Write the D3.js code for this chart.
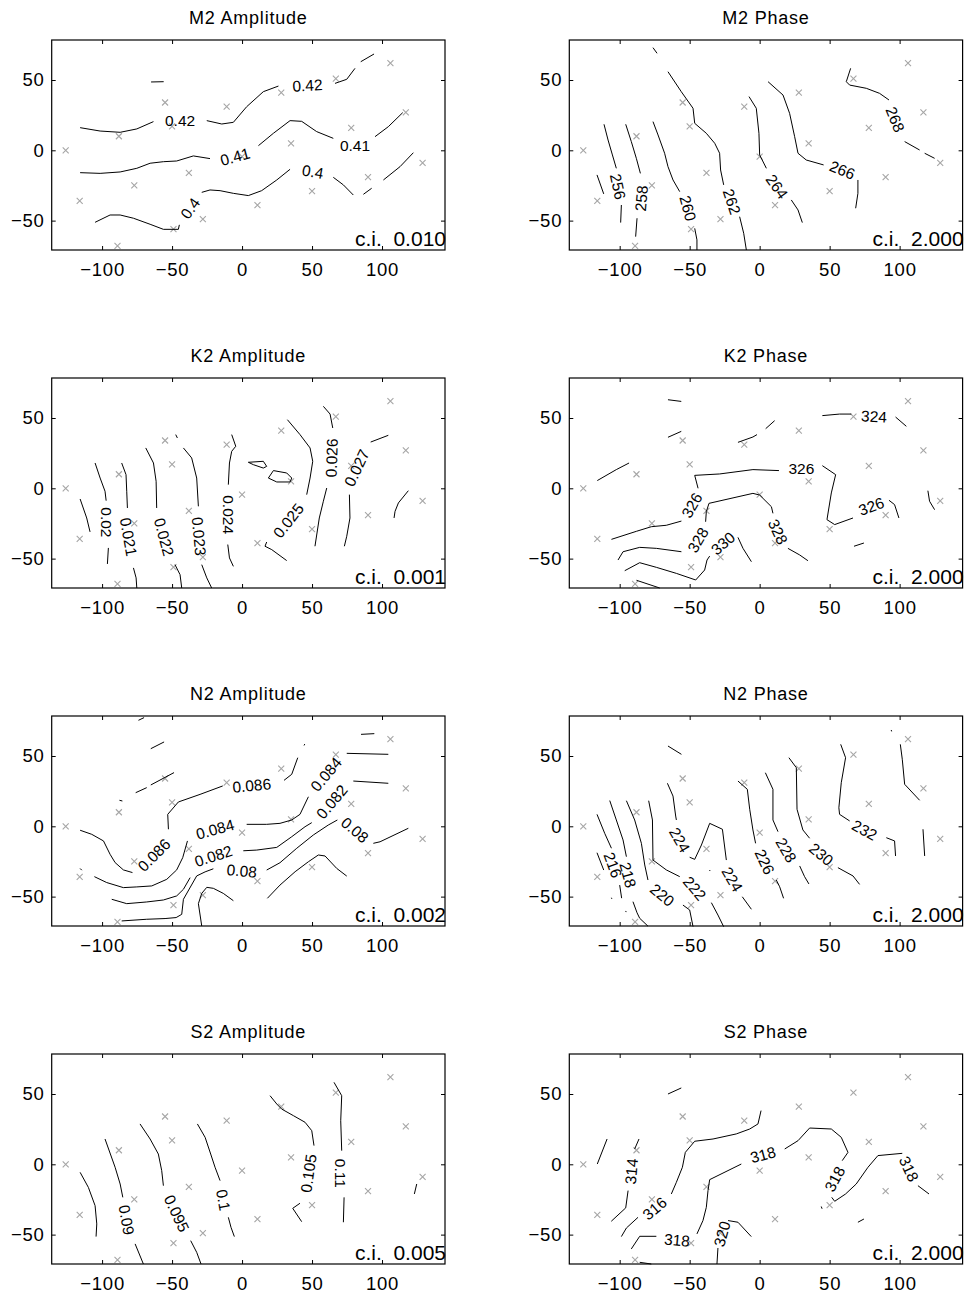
<!DOCTYPE html>
<html>
<head>
<meta charset="utf-8">
<script src="https://cdn.jsdelivr.net/npm/d3@7.9.0/dist/d3.min.js"></script>
<style>
  body { margin: 0; background: #fff; }
  text { font-family: "Liberation Sans", Arial, Helvetica, sans-serif; }
</style>
</head>
<body>
<svg id="chart" width="966" height="1297"></svg>
<script>
// station positions (gray x markers), same on every panel
const stations = [
  [-126, 0], [-116, -36], [-88, 10], [-89, -68], [-77, -25], [-55, 34], [-50, 17],
  [-49, -56], [-38, -16], [-28, -49], [-11, 31], [0, -4.5], [11, -39], [28, 41],
  [35, 5], [50, -29], [67, 51], [78, 16], [90, -19], [106, 62], [117, 27], [129, -9]
];

const xTicks = [-100, -50, 0, 50, 100];
const yTicks = [-50, 0, 50];

const titles = ['M2 Amplitude', 'M2 Phase', 'K2 Amplitude', 'K2 Phase',
                'N2 Amplitude', 'N2 Phase', 'S2 Amplitude', 'S2 Phase'];
const contourIntervals = ['0.010', '2.000', '0.001', '2.000', '0.002', '2.000', '0.005', '2.000'];

// contour pieces, [x, y] in axis units
const m2AmpLines = [
  [[-65, 48.6], [-56, 48.8]],
  [[-115.7, 16.1], [-101.4, 13.7], [-87.1, 12.8], [-75.2, 15.2], [-63.3, 20.4]],
  [[-25.2, 21.1], [-14.5, 18.7], [-6.2, 19.9], [3.3, 31], [15.2, 41.7], [26, 45.7]],
  [[66.4, 47.6], [74.8, 50.5], [80.7, 58.3]],
  [[84.8, 63], [94.3, 68.5]],
  [[-115.7, -15.9], [-101.4, -16.4], [-87.1, -15.4], [-75.2, -12.8], [-65.7, -9.2], [-56.2, -8.1], [-46.7, -7.6], [-34.8, -4], [-22.9, -5.9]],
  [[11.7, 3.3], [22.4, 12.1], [34.3, 21.1], [42.6, 20.6], [53.3, 13.3], [65.2, 8.5]],
  [[95, 9.7], [104.5, 16.8], [114.8, 26.8]],
  [[-105, -51.2], [-94.3, -46], [-87.1, -46], [-77.6, -48.3], [-65.7, -52.6], [-56.2, -56.2], [-45.5, -56.2], [-44.8, -53]],
  [[-28.8, -29.9], [-22.9, -28.2], [-15.7, -28.7], [-6.2, -30.6], [4.5, -32.2], [14, -28.7], [24.8, -21.1], [34.3, -13.5]],
  [[65.2, -19.2], [72.4, -24.6], [79.5, -31.8]],
  [[86.7, -31.3], [92.6, -27]],
  [[101, -21.1], [112.9, -11.6], [122.4, -1.7]]
];
const m2AmpLabels = [
  ['0.42', -44.3, 21.6, 0], ['0.42', 46.7, 46.2, -3], ['0.41', -5, -4.5, -15],
  ['0.41', 80.7, 3.8, 0], ['0.4', -37.1, -41.2, -55], ['0.4', 50.5, -15.2, 10]
];

const m2PhaLines = [
  [[-76.2, 73], [-73.3, 69]],
  [[-116.2, -17.5], [-111.4, -31]],
  [[-111.2, 18.5], [-108.3, 7.3], [-105.2, -3.3], [-102.4, -12.8]],
  [[-98.8, -38.9], [-99.3, -51.4]],
  [[-95.7, 18.5], [-91.7, 6.2], [-88.1, -5.7], [-85.2, -16.4]],
  [[-87.6, -48.3], [-88.6, -61.4]],
  [[-76.2, 20.4], [-72.6, 10.9], [-67.9, -2.1], [-65.5, -11.6], [-61.9, -21.1], [-57.1, -29.4]],
  [[-46.4, -55.5], [-44.8, -63.7], [-44.8, -70.9]],
  [[-65.5, 55.9], [-56, 41.7], [-47.6, 29.9], [-46.4, 19.2], [-38.1, 12.1], [-32.1, 5], [-28.6, -2.1], [-27.9, -14], [-25.7, -24.6]],
  [[-14.3, -47.2], [-11.4, -59], [-9.5, -70.9]],
  [[-7.6, 38.2], [-2.4, 29.9], [-0.5, 12.1], [0, -3.3], [4.8, -12.8]],
  [[22.6, -35.3], [27.4, -42.4], [30.5, -51.4]],
  [[6, 48.8], [16.7, 39.3], [21.4, 26.3], [25, 9.7], [27.4, -2.1], [33.3, -6.9], [45.7, -10.4]],
  [[70.2, -21.1], [70.2, -30.6], [68.6, -41.2]],
  [[65, 58.3], [61.9, 48.8], [64.3, 46.4], [76.2, 44.1], [85.7, 40.5], [92.4, 35.8]],
  [[103.6, 6.2], [114.3, 0.2]],
  [[117.9, -2.1], [125, -5.7]]
];
const m2PhaLabels = [
  ['256', -101.2, -25.8, 78], ['258', -84.5, -34.1, -85], ['260', -51.2, -41.2, 75],
  ['262', -19.8, -36.5, 72], ['264', 12.4, -25.8, 55], ['266', 59, -14, 22], ['268', 96.9, 22, 68]
];

const k2AmpLines = [
  [[-115.7, -7.6], [-111, -21.1], [-108.6, -31]],
  [[-105, 18], [-101.4, 7.3], [-97.9, -2.1], [-97.1, -8.8]],
  [[-95.5, -42.4], [-96.2, -53.8]],
  [[-86, 18], [-82.9, 9.7], [-82.4, -2.1], [-81.9, -14]],
  [[-77.6, -56.6], [-75.7, -63.7], [-75.2, -70.9]],
  [[-68.8, 28.7], [-63.3, 18], [-61.4, 5], [-61, -14]],
  [[-47.9, -54.3], [-44.3, -61.4], [-43.1, -70.9]],
  [[-47.4, 38.2], [-46.2, 35.8]],
  [[-41.9, 28.7], [-36, 21.6], [-32.4, 7.3], [-31.2, -12.8]],
  [[-28.8, -54.3], [-25.2, -63.7], [-21.7, -70.9]],
  [[-7.4, 38.2], [-4.5, 29.9], [-7.4, 26.3], [-9, 18], [-9.8, 2.6]],
  [[-10.2, -40], [-9, -49.5], [-6.2, -55.5]],
  [[4.5, 18.5], [15.2, 19.2], [17.6, 15.6], [15.2, 14.4], [8.1, 16.8], [4.5, 18.5]],
  [[18.8, 7.3], [22.4, 12.6], [31.9, 10.9], [35.5, 7.3], [34.3, 4.5], [24.8, 4.5], [18.8, 7.3]],
  [[32.4, 48.8], [41.4, 38.2], [48.6, 28.7], [50.5, 19.2], [48.6, 7.3], [46.2, -4.5]],
  [[17.6, -38.2], [16.4, -41.2], [21.2, -43.6], [31.9, -51.4]],
  [[58.1, 58.3], [62.9, 52.8], [64.8, 42.9]],
  [[60.5, 0.2], [58.1, -9.2], [55.2, -21.1], [52.1, -41.2]],
  [[91.9, 32.9], [104.5, 37.7]],
  [[76.7, -4.5], [77.1, -21.1], [74.8, -34.1], [73.1, -41.2]],
  [[118.8, -1.7], [111.7, -10.4], [109.3, -16.4], [108.6, -21.1]]
];
const k2AmpLabels = [
  ['0.02', -96.7, -24.2, 90], ['0.021', -81, -34.6, 80], ['0.022', -55.7, -34.6, 75],
  ['0.023', -30.7, -34.1, 85], ['0.024', -9.8, -18.7, 90], ['0.025', 33.1, -23, -52],
  ['0.026', 64, 21.6, -88], ['0.027', 81.9, 14.5, -65]
];

const k2PhaLines = [
  [[-65.5, 63], [-56, 61.8]],
  [[-65.5, 36.3], [-56, 40.5]],
  [[-116, 5.5], [-102.4, 13.3], [-93.3, 18]],
  [[-15.5, 32.7], [-4.8, 36.5], [-1.9, 38.2]],
  [[4.3, 42.4], [10.7, 48.1]],
  [[44.8, 51.7], [57.1, 52.8], [65.5, 52.8]],
  [[97.1, 50.7], [104.8, 44.1]],
  [[-105.9, -36.3], [-88.1, -30.6], [-77.4, -27.3], [-66.7, -26.3], [-55.9, -23.3]],
  [[-44, 0], [-46.4, 9.2], [-28.6, 10.2], [-4.8, 13.3], [13.8, 12.6]],
  [[44.8, 16.1], [54.3, 9.7], [51.2, -3.3], [48.1, -22.3], [53.6, -25.8], [66.7, -21.1]],
  [[92.4, -8.5], [96.4, -11.6], [99.5, -21.1]],
  [[-101.2, -51], [-97.6, -45.1], [-85.7, -42], [-73.8, -42.7], [-55.9, -45.1]],
  [[-38.6, -23.8], [-38.1, -16.6], [-36.2, -10.7], [-4.8, -3.6], [0, -4.8], [8.4, -13.1], [9.5, -17.8]],
  [[20.2, -42.7], [28.6, -47.4], [34.5, -51.5]],
  [[-96.4, -58.6], [-85.7, -52.9], [-73.8, -56.2], [-59.5, -60.5], [-45.7, -65.2], [-39.3, -58.1], [-37.6, -51], [-35.7, -48.2]],
  [[-15.5, -34.9], [-11.9, -42.7], [-5.9, -52.2]],
  [[-88, -65.4], [-71.4, -70.9]],
  [[120.2, -1.7], [121.4, -9.2], [125, -15.2]],
  [[67.4, -41.2], [74.5, -38.9]]
];
const k2PhaLabels = [
  ['324', 81.7, 51.2, 3], ['326', 29.8, 14.5, 0], ['326', 79.8, -12.8, -20],
  ['326', -48.5, -12, -60], ['328', -44.1, -36.8, -60], ['328', 13.1, -30.9, 65], ['330', -26.2, -39.1, -40]
];

const n2AmpLines = [
  [[-74, 75.4], [-70, 77.3]],
  [[-65.2, 55.2], [-55.7, 60]],
  [[-76, 23.9], [-68.1, 27.5]],
  [[-65.2, 29.4], [-48.6, 38.2]],
  [[-87.6, 18.5], [-85.5, 18]],
  [[-115.7, -2.8], [-107.4, -5.7], [-99, -10.4], [-94.3, -19.9], [-90.7, -25.8], [-84.8, -31], [-78.3, -32.9]],
  [[-52.6, -2.1], [-53.1, 8.5], [-45.5, 17.3], [-30, 22.7], [-13.8, 28.7]],
  [[30, 32.7], [35.5, 37], [39.8, 48.8]],
  [[44.3, 57.5], [44.8, 58.5]],
  [[-115.7, -30], [-114.5, -31.2]],
  [[-105.5, -35.8], [-96.7, -40], [-84.8, -43.6], [-75.2, -43.1], [-64.5, -42.4], [-53.8, -37.7], [-46.7, -31], [-42.4, -22.3], [-39, -10.4]],
  [[3.3, 1.4], [17.6, 1.4], [27.1, 2.1], [35.5, 4.5], [41.4, 8.5], [47.4, 21]],
  [[74.8, 51.9], [104.5, 51.2]],
  [[85, 65.4], [94.5, 65.9]],
  [[-93.1, -51.9], [-82.4, -55], [-68.1, -53.8], [-56.2, -52.4], [-46.7, -49.5], [-41.9, -44.8], [-37.1, -36.5]],
  [[0.9, -17.4], [10.5, -16.9], [24.8, -15], [35.5, -7.4], [45, -0.3], [49.8, 2.6]],
  [[79.5, 32.2], [104.5, 30.6]],
  [[-86, -67.3], [-68.1, -66.1], [-55, -65.6], [-47.1, -64.9], [-43.1, -62.6], [-41.9, -51.9], [-32.4, -35.3], [-26.4, -32.4], [-20.5, -30.2]],
  [[17.6, -31.1], [27.1, -25.9], [39.1, -15.6], [50.9, -6.2], [61.6, 0.9], [68.1, 4.5]],
  [[93.8, -12.1], [98.6, -11], [118.8, -1.4]],
  [[-28.8, -70.9], [-31.2, -55], [-28.8, -47.7], [-25.2, -43.4], [-20.5, -44.1], [-13.4, -47.7], [-6.2, -52.9]],
  [[18.1, -51.2], [27.1, -41.8], [37.9, -32.3], [47.4, -25.2], [54.5, -20.4], [59.3, -21.1], [67.6, -29.9], [74.8, -35.4]]
];
const n2AmpLabels = [
  ['0.086', -62.9, -20.4, -45], ['0.086', 6.9, 29.1, -5], ['0.084', -19.3, -2.1, -15],
  ['0.084', 60, 37, -50], ['0.082', -20.5, -21.1, -18], ['0.082', 64.1, 17.5, -50],
  ['0.08', -0.2, -31.6, 5], ['0.08', 80.7, -2.6, 40]
];

const n2PhaLines = [
  [[-65.5, 57.1], [-55.9, 51.2]],
  [[94, 68.5], [94.3, 67.5]],
  [[-116.2, -18.8], [-111.4, -31.1]],
  [[-116.2, 8.5], [-110.7, -5], [-105.9, -15.6]],
  [[-100, -41.8], [-98.6, -51.1]],
  [[-105.9, -50.8], [-105.6, -51.6]],
  [[-95.7, -60.2], [-95.4, -61]],
  [[-107.1, 18.3], [-102.4, 4.5], [-97.6, -9.7], [-95.2, -21.6]],
  [[-90.5, -53.6], [-87.6, -61.5], [-85.7, -65.4], [-79.8, -71]],
  [[-95.2, 18.2], [-89.3, 4.5], [-84.5, -12.1], [-82.1, -27.5], [-79.8, -38.2]],
  [[-54.8, -56], [-50, -59.5], [-47.6, -71.3]],
  [[-79.3, 18.2], [-76.6, 4.5], [-76.2, -24], [-66.7, -31], [-57.1, -35.8]],
  [[-34.5, -54.3], [-29.8, -63.1], [-25.7, -71.4]],
  [[-65.9, 30.6], [-61.9, 21.5], [-60, 7.3], [-59.5, 4.5]],
  [[-50, -22], [-46.4, -23.5], [-41.6, -13.3], [-35.7, 2.1], [-26.6, -2.1], [-23.8, -24]],
  [[-12.4, -50.1], [-5.9, -59]],
  [[-35.7, -31.1], [-35.5, -31.8]],
  [[-15.5, 32.2], [-8.8, 26.3], [-7.1, 12.1], [-4.8, -2.6], [-2.9, -12.1]],
  [[11.9, -38.2], [14.3, -43], [17.1, -51.2]],
  [[4.1, 38.1], [9.5, 26.3], [9.5, 4.5], [13.1, -3.8]],
  [[28.6, -28.2], [32.1, -35.8], [35.2, -41]],
  [[20.9, 48.8], [26.2, 41.7], [26.7, 12.1], [30.9, -2.6], [35.7, -8.5]],
  [[55.9, -29.4], [66.7, -35.3], [71.4, -41.3]],
  [[57.9, 58.3], [61.4, 48.8], [58.3, 31], [56.6, 13.2], [57.1, 8.5], [64.3, 3.8]],
  [[90.5, -8.1], [96.4, -10.4], [97.1, -21.1]],
  [[100.5, 58.3], [101.9, 47.7], [103.6, 29.9], [114.3, 18.5]],
  [[116.7, -2.1], [117.9, -21.1]]
];
const n2PhaLabels = [
  ['216', -104.8, -27.5, 70], ['218', -94, -34.6, 75], ['220', -69.5, -48.9, 40],
  ['222', -46.4, -44.1, 50], ['224', -57.1, -9.7, 60], ['224', -19.5, -37.7, 60],
  ['226', 3.6, -25.2, 65], ['228', 19, -16.9, 60], ['230', 44.1, -19.9, 40], ['232', 75, -2.6, 28]
];

const s2AmpLines = [
  [[-115.7, -5.7], [-109.8, -16.4], [-105, -29.4], [-103.8, -42.4], [-104.3, -51.4]],
  [[-97.9, 18], [-90.7, -2.1], [-87.1, -14], [-85.2, -23.5]],
  [[-76.4, -56.6], [-70.5, -70.9]],
  [[-72.9, 28.7], [-65.7, 18], [-59.8, 7.3], [-57.4, -4.5], [-56.2, -15.2]],
  [[-36.7, -54.3], [-32.4, -62.6], [-29.3, -70.9]],
  [[-31.9, 28.7], [-26.4, 19.2], [-22.4, 7.3], [-19.3, -2.1], [-15.7, -11.6]],
  [[-9.8, -37.7], [-7.9, -44.8], [-5.5, -51.4]],
  [[20, 48.8], [24.8, 42.9], [28.3, 39.3], [36.7, 34.6], [45, 29.9], [49.8, 23.9], [51.4, 13.3]],
  [[41.4, -27.7], [36.2, -31.3], [42.6, -40.8]],
  [[65.7, 58.3], [71.2, 48.8], [70.5, 31], [71.2, 9.7]],
  [[72.9, -23.5], [72.4, -41.2]],
  [[124.8, -14], [123.1, -21.1]]
];
const s2AmpLabels = [
  ['0.09', -82.4, -39.6, 80], ['0.095', -46.7, -34.9, 65], ['0.1', -13.4, -25.4, 80],
  ['0.105', 47.4, -6.4, -82], ['0.11', 70.5, -6.4, 90]
];

const s2PhaLines = [
  [[-65.5, 50], [-56, 54.3]],
  [[-116, 0.2], [-109, 18]],
  [[-86.2, 18], [-89.3, 10.9]],
  [[-94, -18.7], [-95.7, -31], [-106, -40.5]],
  [[1, 38.2], [-1.2, 28.7], [-7.1, 25.1], [-16.7, 21.6], [-33.3, 18], [-46.4, 16.4], [-53.1, 8.5], [-55.2, -2.1], [-59.5, -12.8], [-63.1, -21.1]],
  [[-86.9, -37.7], [-95.2, -45.3], [-98.8, -51.4]],
  [[121, -21.1], [113.1, -15.2]],
  [[101.9, 7.8], [84.5, 6.2], [77.4, -2.1], [69, -14], [61.4, -21.1], [53.6, -26.3], [51.5, -23.5]],
  [[59, 2.6], [63.1, 8.5], [58.3, 19.2], [51.2, 25.1], [35.7, 25.8], [27.4, 16.8], [17.9, 10.9]],
  [[-13.1, 0.2], [-35.7, -10.9], [-36.9, -18.7], [-38.1, -30.6], [-40.5, -40], [-44.8, -49.5]],
  [[-73.8, -51.2], [-85.7, -51.2], [-91.7, -60.2]],
  [[-30.5, -70.9], [-29.8, -59.5]],
  [[-22.6, -40], [-15.5, -41.2], [-6, -51.4]],
  [[-85.7, -69.7], [-77.4, -70.9]],
  [[70.2, -41.2], [74.5, -38.9]],
  [[44, -30], [44.6, -31.6]]
];
const s2PhaLabels = [
  ['314', -91.7, -5, -85], ['316', -75, -31.3, -40], ['318', 2.4, 6.9, -15],
  ['318', 53.6, -10.4, -62], ['318', 106.7, -3.3, 65], ['318', -59, -53.8, 5], ['320', -26.9, -49.5, -75]
];

const panelLines = [m2AmpLines, m2PhaLines, k2AmpLines, k2PhaLines, n2AmpLines, n2PhaLines, s2AmpLines, s2PhaLines];
const panelLabels = [m2AmpLabels, m2PhaLabels, k2AmpLabels, k2PhaLabels, n2AmpLabels, n2PhaLabels, s2AmpLabels, s2PhaLabels];

// layout
const colLeft = [51.7, 569.3];
const rowTop = [40, 378, 716, 1054];
const w = 393.3, h = 210;

const x = d3.scaleLinear().domain([-136, 145]).range([0, w]);
const y = d3.scaleLinear().domain([-70.9, 78.45]).range([h, 0]);
const line = d3.line().x(d => x(d[0])).y(d => y(d[1]));

const svg = d3.select('#chart');

titles.forEach((title, i) => {
    const g = svg.append('g')
        .attr('transform', `translate(${colLeft[i % 2]},${rowTop[Math.floor(i / 2)]})`);

    // stations
    const sz = 3;
    g.append('g').selectAll('path').data(stations).join('path')
        .attr('d', d => `M${x(d[0]) - sz},${y(d[1]) - sz}L${x(d[0]) + sz},${y(d[1]) + sz}M${x(d[0]) - sz},${y(d[1]) + sz}L${x(d[0]) + sz},${y(d[1]) - sz}`)
        .attr('stroke', '#a6a6a6')
        .attr('stroke-width', 1.1)
        .attr('fill', 'none');

    // contour lines
    g.append('g').selectAll('path').data(panelLines[i]).join('path')
        .attr('d', line)
        .attr('fill', 'none')
        .attr('stroke', '#000')
        .attr('stroke-width', 1);

    // contour labels
    g.append('g').selectAll('text').data(panelLabels[i]).join('text')
        .attr('transform', d => `translate(${x(d[1])},${y(d[2])}) rotate(${d[3]})`)
        .attr('text-anchor', 'middle')
        .attr('dy', '0.36em')
        .style('font-size', '15.5px')
        .text(d => d[0]);

    // axes, ticks pointing inward on all four sides
    const xAxis = g.append('g').attr('transform', `translate(0,${h})`)
        .call(d3.axisBottom(x).tickValues(xTicks).tickSizeInner(-4).tickSizeOuter(0).tickPadding(13));
    g.append('g')
        .call(d3.axisTop(x).tickValues(xTicks).tickSizeInner(-4).tickSizeOuter(0).tickFormat(''));
    const yAxis = g.append('g')
        .call(d3.axisLeft(y).tickValues(yTicks).tickSizeInner(-4).tickSizeOuter(0).tickPadding(7));
    g.append('g').attr('transform', `translate(${w},0)`)
        .call(d3.axisRight(y).tickValues(yTicks).tickSizeInner(-4).tickSizeOuter(0).tickFormat(''));
    g.selectAll('.domain').remove();
    g.selectAll('.tick line').attr('stroke', '#000');
    [xAxis, yAxis].forEach(a => a.selectAll('text')
        .attr('fill', '#000')
        .style('font-size', '18.5px')
        .style('letter-spacing', '0.8px')
        .style('font-family', '"Liberation Sans", Arial, sans-serif'));

    g.append('rect')
        .attr('width', w).attr('height', h)
        .attr('fill', 'none').attr('stroke', '#000').attr('stroke-width', 1.2);

    g.append('text')
        .attr('x', w / 2).attr('y', -16)
        .attr('text-anchor', 'middle')
        .style('font-size', '18px')
        .style('letter-spacing', '0.8px')
        .text(title);

    g.append('text')
        .attr('x', w + 1).attr('y', h - 4)
        .attr('text-anchor', 'end')
        .style('font-size', '21px')
        .style('white-space', 'pre')
        .text('c.i.  ' + contourIntervals[i]);
});
</script>
</body>
</html>
